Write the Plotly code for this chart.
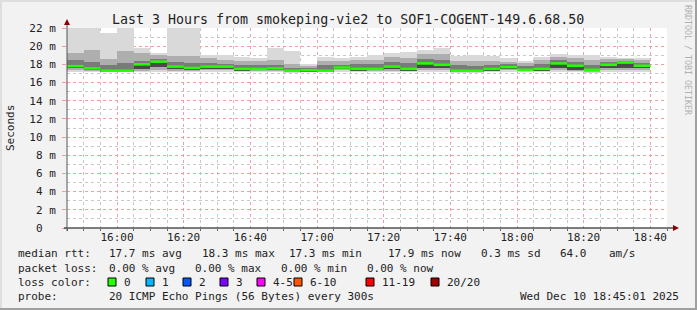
import pandas as pd
import plotly.graph_objects as go

# ---------------- data ----------------
start_time = "2025-12-10 15:45:00"
end_time = "2025-12-10 18:45:00"
step_minutes = 5

# smoke quantiles per 5-minute step (ms)
rtt_min = [17.15, 17.15, 17.15, 17.15, 17.15, 17.15, 17.15, 17.15, 17.2, 17.2,
           17.15, 17.2, 17.15, 17.1, 17.15, 17.15, 17.2, 17.15, 17.15, 17.15,
           17.15, 17.15, 17.2, 17.1, 17.1, 17.15, 17.2, 17.2, 17.15, 17.2,
           17.15, 17.1, 17.2, 17.2, 17.2]
rtt_p10 = [17.35, 17.3, 17.2, 17.2, 17.3, 17.4, 17.3, 17.3, 17.4, 17.4,
           17.25, 17.3, 17.3, 17.15, 17.2, 17.2, 17.35, 17.25, 17.25, 17.3,
           17.25, 17.35, 17.4, 17.15, 17.15, 17.25, 17.35, 17.25, 17.25, 17.4,
           17.25, 17.2, 17.4, 17.4, 17.4]
rtt_p25 = [17.55, 17.4, 17.25, 17.25, 17.5, 17.7, 17.5, 17.45, 17.55, 17.55,
           17.35, 17.4, 17.4, 17.25, 17.25, 17.25, 17.5, 17.35, 17.4, 17.45,
           17.35, 17.6, 17.6, 17.2, 17.2, 17.35, 17.5, 17.3, 17.35, 17.6,
           17.35, 17.3, 17.6, 17.6, 17.6]
rtt_median = [17.8, 17.55, 17.3, 17.3, 18.0, 18.3, 17.75, 17.6, 17.75, 17.75,
              17.5, 17.5, 17.55, 17.3, 17.35, 17.3, 17.65, 17.5, 17.5, 17.75,
              17.5, 18.1, 17.95, 17.3, 17.3, 17.5, 17.7, 17.4, 17.5, 18.1,
              17.85, 17.4, 17.95, 18.2, 17.85]
rtt_p75 = [18.5, 18.3, 17.9, 18.2, 18.4, 18.6, 18.3, 18.2, 18.1, 18.05,
           17.95, 17.9, 17.9, 17.6, 17.6, 17.9, 17.95, 18.0, 18.0, 18.3,
           18.1, 18.6, 18.5, 17.9, 17.8, 17.9, 18.0, 17.8, 18.0, 18.5,
           18.3, 17.9, 18.3, 18.4, 18.2]
rtt_p90 = [19.3, 19.6, 18.6, 19.5, 19.2, 19.0, 18.9, 18.9, 18.7, 18.5,
           18.4, 18.4, 18.5, 18.0, 17.8, 18.4, 18.4, 18.5, 18.5, 18.8,
           18.7, 19.1, 19.1, 18.4, 18.4, 18.4, 18.3, 18.1, 18.5, 18.8,
           18.7, 18.5, 18.6, 18.6, 18.5]
rtt_max = [22.0, 22.0, 21.5, 22.0, 19.85, 19.2, 22.0, 22.0, 19.0, 19.0,
           18.8, 18.75, 19.8, 19.5, 18.05, 18.8, 18.7, 18.85, 19.0, 19.25,
           19.35, 19.6, 19.8, 18.9, 19.0, 18.9, 18.7, 18.35, 18.8, 19.1,
           19.0, 19.0, 18.8, 18.7, 18.7]

y_tick_values = [0, 2, 4, 6, 8, 10, 12, 14, 16, 18, 20, 22]
y_tick_labels = ["0\u00a0\u00a0", "2 m", "4 m", "6 m", "8 m", "10 m", "12 m",
                 "14 m", "16 m", "18 m", "20 m", "22 m"]

title_text = "Last 3 Hours from smokeping-vie2 to SOF1-COGENT-149.6.68.50"
median_row = ["median rtt:", "17.7 ms avg", "18.3 ms max", "17.3 ms min",
              "17.9 ms now", "0.3 ms sd", "64.0", "am/s"]
loss_row = ["packet loss:", "0.00 % avg", "0.00 % max", "0.00 % min", "0.00 % now"]
loss_labels = ["0", "1", "2", "3", "4-5", "6-10", "11-19", "20/20"]
loss_colors = ["#26ff00", "#00b8ff", "#0059ff", "#7e00ff", "#ff00ff",
               "#ff5500", "#ff0000", "#a10000"]
probe_row = ["probe:", "20 ICMP Echo Pings (56 Bytes) every 300s",
             "Wed Dec 10 18:45:01 2025"]

# ---------------- layout geometry ----------------
W, H = 697, 310
PL, PR, PT, PB = 67, 667, 28, 228


def px(x):
    return (x - PL) / (PR - PL)


def py(y):
    return (PB - y) / (PB - PT)


MONO = "DejaVu Sans Mono"

n = len(rtt_median)
bar_starts = pd.date_range(start_time, periods=n, freq=f"{step_minutes}min")
bar_centers = bar_starts + pd.Timedelta(minutes=step_minutes / 2)
bar_ends = bar_starts + pd.Timedelta(minutes=step_minutes)
width_ms = step_minutes * 60 * 1000

fig = go.Figure()

bands = [
    (rtt_min, rtt_max, "#d9d9d9"),
    (rtt_p10, rtt_p90, "#aeaeae"),
    (rtt_p25, rtt_p75, "#7a7a7a"),
]
for lo, hi, col in bands:
    fig.add_trace(go.Bar(
        x=bar_centers, base=lo, y=[h - l for l, h in zip(lo, hi)],
        width=width_ms, marker=dict(color=col, line=dict(width=0)),
        hoverinfo="skip", showlegend=False,
    ))

# dark core between lower quartile and median
fig.add_trace(go.Bar(
    x=bar_centers, base=rtt_p25, y=[m - l for l, m in zip(rtt_p25, rtt_median)],
    width=width_ms, marker=dict(color="#4a4a4a", line=dict(width=0)),
    hoverinfo="skip", showlegend=False,
))

# median segments
mx, my = [], []
for s, e, m in zip(bar_starts, bar_ends, rtt_median):
    mx += [s, e, None]
    my += [m, m, None]
fig.add_trace(go.Scatter(x=mx, y=my, mode="lines",
                         line=dict(color="#26ff00", width=2.5),
                         hoverinfo="skip", showlegend=False))

fig.update_layout(
    width=W, height=H,
    margin=dict(l=PL, r=W - PR, t=PT, b=H - PB, pad=0),
    paper_bgcolor="#f2f2f2", plot_bgcolor="#ffffff",
    barmode="overlay", bargap=0,
    showlegend=False,
    font=dict(family=MONO, size=11, color="#222222"),
)

fig.update_xaxes(
    type="date", range=[start_time, end_time],
    tick0="2025-12-10 16:00:00", dtick=20 * 60 * 1000, tickformat="%H:%M",
    showgrid=True, gridcolor="#f0a0a0", griddash="dot", gridwidth=1,
    minor=dict(dtick=5 * 60 * 1000, tick0="2025-12-10 16:00:00", showgrid=True,
               gridcolor="#c8c8c8", griddash="dot", gridwidth=1,
               ticks="outside", ticklen=2, tickcolor="#666666"),
    ticks="", ticklabelstandoff=1,
    tickfont=dict(family=MONO, size=11, color="#222222"),
    showline=False, zeroline=False, fixedrange=True,
)
fig.update_yaxes(
    range=[0, 22], tickvals=y_tick_values, ticktext=y_tick_labels,
    showgrid=True, gridcolor="#f0a0a0", griddash="dot", gridwidth=1,
    minor=dict(dtick=1, showgrid=True, gridcolor="#c8c8c8", griddash="dot", gridwidth=1),
    ticks="outside", ticklen=4, tickcolor="#f0a0a0",
    ticklabelstandoff=4,
    tickfont=dict(family=MONO, size=11, color="#222222"),
    showline=False, zeroline=False, fixedrange=True,
)

shapes = []
# axes lines with arrows
shapes.append(dict(type="line", xref="paper", yref="paper", x0=px(64), x1=px(675),
                   y0=py(PB), y1=py(PB), line=dict(color="#000000", width=1)))
shapes.append(dict(type="line", xref="paper", yref="paper", x0=px(PL), x1=px(PL),
                   y0=py(PB + 3), y1=py(24), line=dict(color="#555555", width=1)))
shapes.append(dict(type="path", xref="paper", yref="paper",
                   path=f"M {px(673)} {py(225)} L {px(679)} {py(228)} L {px(673)} {py(231)} Z",
                   fillcolor="#880000", line=dict(width=0)))
shapes.append(dict(type="path", xref="paper", yref="paper",
                   path=f"M {px(64)} {py(25)} L {px(67)} {py(19)} L {px(70)} {py(25)} Z",
                   fillcolor="#880000", line=dict(width=0)))
# frame shading
shapes.append(dict(type="rect", xref="paper", yref="paper", x0=px(0), x1=px(2),
                   y0=py(H), y1=py(0), fillcolor="#dedede", line=dict(width=0)))
shapes.append(dict(type="rect", xref="paper", yref="paper", x0=px(0), x1=px(W),
                   y0=py(2), y1=py(0), fillcolor="#dedede", line=dict(width=0)))
shapes.append(dict(type="rect", xref="paper", yref="paper", x0=px(W - 2), x1=px(W),
                   y0=py(H), y1=py(0), fillcolor="#a0a0a0", line=dict(width=0)))
shapes.append(dict(type="rect", xref="paper", yref="paper", x0=px(0), x1=px(W),
                   y0=py(H), y1=py(H - 2), fillcolor="#a0a0a0", line=dict(width=0)))

annotations = []


def text(t, x, y, anchor="left", size=11, color="#222222", angle=0):
    annotations.append(dict(text=t, xref="paper", yref="paper", x=px(x), y=py(y),
                            xanchor=anchor, yanchor="middle", showarrow=False,
                            textangle=angle,
                            font=dict(family=MONO, size=size, color=color)))


text(title_text, 348, 19, anchor="center", size=13.3)
text("Seconds", 10, 128, anchor="center", angle=-90)
text("RRDTOOL / TOBI OETIKER", 688, 60, anchor="center", size=8.3,
     color="#b0b0b0", angle=90)

median_x = [16, 107, 200, 287, 386, 479, 558, 607]
for t, x in zip(median_row, median_x):
    text(t, x, 254)
loss_x = [16, 107, 193, 279, 365]
for t, x in zip(loss_row, loss_x):
    text(t, x, 268)
text("loss color:", 16, 282)
box_x = [108, 146, 183, 220, 257, 294, 366, 431]
for lab, col, bx in zip(loss_labels, loss_colors, box_x):
    shapes.append(dict(type="rect", xref="paper", yref="paper",
                       x0=px(bx), x1=px(bx + 8), y0=py(286), y1=py(278),
                       fillcolor=col, line=dict(color="#000000", width=1)))
    text(lab, bx + 14, 282)
text(probe_row[0], 16, 296)
text(probe_row[1], 107, 296)
text(probe_row[2], 681, 296, anchor="right")

fig.update_layout(shapes=shapes, annotations=annotations)

fig.write_html("out.html")
